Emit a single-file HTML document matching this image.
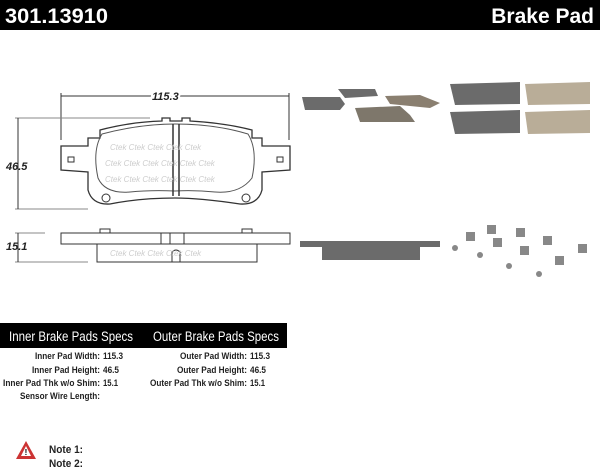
<!DOCTYPE html>
<html><head><style>
body{margin:0;width:600px;height:469px;overflow:hidden;background:#fff;font-family:"Liberation Sans",sans-serif}
</style></head><body>
<svg width="600" height="469" viewBox="0 0 600 469" xmlns="http://www.w3.org/2000/svg" font-family="Liberation Sans, sans-serif">
<rect x="0" y="0" width="600" height="30" fill="#000"/>
<text x="5" y="23" fill="#fff" font-size="21" font-weight="bold" textLength="103" lengthAdjust="spacingAndGlyphs">301.13910</text>
<text x="594" y="23" fill="#fff" font-size="21" font-weight="bold" text-anchor="end">Brake Pad</text>

<g stroke="#333" fill="none" stroke-width="1">
<line x1="61" y1="96" x2="289" y2="96"/>
<line x1="61" y1="93" x2="61" y2="140"/>
<line x1="289" y1="93" x2="289" y2="140"/>
<line x1="15" y1="118" x2="150" y2="118" stroke="#888"/>
<line x1="15" y1="209" x2="88" y2="209" stroke="#888"/>
<line x1="18" y1="118" x2="18" y2="209"/>
<line x1="15" y1="233" x2="45" y2="233" stroke="#888"/>
<line x1="15" y1="262" x2="88" y2="262" stroke="#888"/>
<line x1="18" y1="233" x2="18" y2="262"/>
<path d="M100,130 Q130,122 162,121 L162,118 L170,118 L170,121 L182,121 L182,118 L190,118 L190,121 Q225,123 252,130 L252,138 L262,138 L262,146 L290,146 L290,170 L262,172 L262,190 Q258,205 240,204 Q200,198 175,198 Q140,198 110,204 Q92,205 88,190 L88,172 L61,170 L61,146 L88,146 L88,138 L100,138 Z" stroke-width="1.3"/>
<path d="M102,134 Q140,124 175,124 Q215,124 248,134 Q258,150 252,178 Q240,194 215,192 Q195,190 175,191 Q150,190 130,192 Q105,194 98,178 Q92,150 102,134 Z" stroke="#555"/>
<line x1="173" y1="124" x2="173" y2="196" stroke-width="1.5"/>
<line x1="179" y1="124" x2="179" y2="196" stroke-width="1.5"/>
<circle cx="106" cy="198" r="4"/>
<circle cx="246" cy="198" r="4"/>
<rect x="68" y="157" width="6" height="5"/>
<rect x="277" y="157" width="6" height="5"/>
<rect x="61" y="233" width="229" height="11"/>
<rect x="97" y="244" width="160" height="18"/>
<line x1="161" y1="233" x2="161" y2="244"/>
<line x1="170" y1="233" x2="170" y2="244"/>
<line x1="184" y1="233" x2="184" y2="244"/>
<rect x="100" y="229" width="10" height="4"/>
<rect x="242" y="229" width="10" height="4"/>
<path d="M172,262 L172,252 Q176,248 180,252 L180,262"/>
</g>
<g font-size="8" fill="#ccc" font-style="italic">
<text x="110" y="150">Ctek Ctek Ctek Ctek Ctek</text>
<text x="105" y="166">Ctek Ctek Ctek Ctek Ctek Ctek</text>
<text x="105" y="182">Ctek Ctek Ctek Ctek Ctek Ctek</text>
<text x="110" y="256">Ctek Ctek Ctek Ctek Ctek</text>
</g>
<g font-weight="bold" font-style="italic" font-size="11" fill="#222">
<text x="152" y="100" fill="#222" stroke="#fff" stroke-width="4" paint-order="stroke">115.3</text>
<text x="6" y="170">46.5</text>
<text x="6" y="250">15.1</text>
</g>

<g fill="#6b6b6b">
<path d="M302,97 L340,97 L345,104 L340,110 L305,110 Z"/>
<path d="M338,89 L375,89 L378,96 L345,98 Z"/>
<path d="M385,96 L420,95 L440,103 L430,108 L390,104 Z" fill="#8a7f70"/>
<path d="M355,108 L400,106 L410,115 L415,122 L360,122 Z" fill="#7e776b"/>
<path d="M450,84 L520,82 L520,104 L455,105 Z"/>
<path d="M450,112 L520,110 L520,133 L455,134 Z"/>
<path d="M525,84 L590,82 L590,104 L528,105 Z" fill="#b9ad98"/>
<path d="M525,112 L590,110 L590,133 L528,134 Z" fill="#b9ad98"/>
<rect x="300" y="241" width="140" height="6"/>
<rect x="322" y="246" width="98" height="14"/>
</g>
<g fill="#888">
<rect x="487" y="225" width="9" height="9"/><rect x="466" y="232" width="9" height="9"/>
<rect x="516" y="228" width="9" height="9"/><rect x="493" y="238" width="9" height="9"/>
<rect x="543" y="236" width="9" height="9"/><rect x="520" y="246" width="9" height="9"/>
<rect x="578" y="244" width="9" height="9"/><rect x="555" y="256" width="9" height="9"/>
<circle cx="455" cy="248" r="3"/><circle cx="480" cy="255" r="3"/><circle cx="509" cy="266" r="3"/><circle cx="539" cy="274" r="3"/>
</g>

<rect x="0" y="323" width="287" height="25" fill="#000"/>
<text x="9" y="341" fill="#fff" font-size="13.5" textLength="124" lengthAdjust="spacingAndGlyphs">Inner Brake Pads Specs</text>
<text x="153" y="341" fill="#fff" font-size="13.5" textLength="126" lengthAdjust="spacingAndGlyphs">Outer Brake Pads Specs</text>
<g font-size="9.5" font-weight="bold" fill="#222" lengthAdjust="spacingAndGlyphs">
<text x="35" y="359" textLength="65" lengthAdjust="spacingAndGlyphs">Inner Pad Width:</text><text x="103" y="359" textLength="20" lengthAdjust="spacingAndGlyphs">115.3</text>
<text x="32" y="373" textLength="68" lengthAdjust="spacingAndGlyphs">Inner Pad Height:</text><text x="103" y="373" textLength="16" lengthAdjust="spacingAndGlyphs">46.5</text>
<text x="3" y="386" textLength="97" lengthAdjust="spacingAndGlyphs">Inner Pad Thk w/o Shim:</text><text x="103" y="386" textLength="15" lengthAdjust="spacingAndGlyphs">15.1</text>
<text x="20" y="399" textLength="80" lengthAdjust="spacingAndGlyphs">Sensor Wire Length:</text>
<text x="180" y="359" textLength="67" lengthAdjust="spacingAndGlyphs">Outer Pad Width:</text><text x="250" y="359" textLength="20" lengthAdjust="spacingAndGlyphs">115.3</text>
<text x="177" y="373" textLength="70" lengthAdjust="spacingAndGlyphs">Outer Pad Height:</text><text x="250" y="373" textLength="16" lengthAdjust="spacingAndGlyphs">46.5</text>
<text x="150" y="386" textLength="97" lengthAdjust="spacingAndGlyphs">Outer Pad Thk w/o Shim:</text><text x="250" y="386" textLength="15" lengthAdjust="spacingAndGlyphs">15.1</text>
</g>
<path d="M26,441 L36,459 L16,459 Z" fill="#c33"/>
<path d="M26,446 L31,456 L21,456 Z" fill="#fff"/>
<text x="26" y="455" font-size="8" font-weight="bold" text-anchor="middle" fill="#000">!</text>
<text x="49" y="453" font-size="11" font-weight="bold" fill="#222" textLength="34" lengthAdjust="spacingAndGlyphs">Note 1:</text>
<text x="49" y="467" font-size="11" font-weight="bold" fill="#222" textLength="34" lengthAdjust="spacingAndGlyphs">Note 2:</text>
</svg>
</body></html>
